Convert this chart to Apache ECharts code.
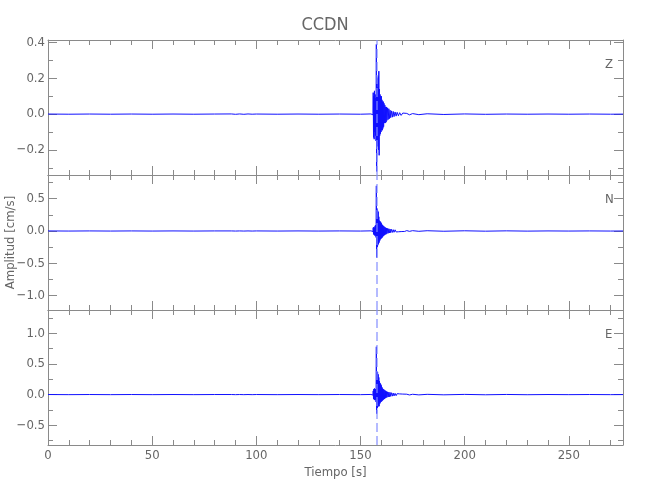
<!DOCTYPE html>
<html><head><meta charset="utf-8">
<script src="https://cdn.jsdelivr.net/npm/echarts@6/dist/echarts.min.js"></script>
<style>html,body{margin:0;padding:0;background:#fff}#chart{width:650px;height:500px}</style>
</head><body><div id="chart"></div>
<script>
const stationName = 'CCDN';
const componentNames = ['Z', 'N', 'E'];
const xAxisTitle = 'Tiempo [s]';
const yAxisTitle = 'Amplitud [cm/s]';

const times = [
  0, 10, 20, 30, 40, 50, 60, 70, 80, 88, 90, 92, 94, 96, 98, 100, 110, 120, 130, 140, 150, 155, 156.0,
  156.1, 156.25, 156.4, 156.55, 156.7, 156.85, 157.0, 157.15, 157.3, 157.45,
  157.6, 157.75, 157.9, 158.05, 158.2, 158.35, 158.5, 158.65, 158.8, 158.95,
  159.1, 159.25, 159.4, 159.55, 159.7, 159.85, 160.0, 160.15, 160.3, 160.45,
  160.6, 160.75, 160.9,
  161.1, 161.3, 161.5, 161.7, 161.9, 162.1, 162.3, 162.5, 162.7,
  163.0, 163.3, 163.6, 163.9, 164.2, 164.5, 164.9, 165.3, 165.7,
  166.1, 166.6, 167.1, 167.6, 168.2, 168.8, 169.5, 170.3, 171.2, 172.2, 173.5,
  175, 178, 182, 190, 200, 210, 220, 230, 240, 250, 260, 270, 276
];

const ampZ = [
  0.0005, -0.0005, 0.0005, -0.0005, 0.0005, -0.0005, 0.0005, -0.0005, 0.0005, 0.001, -0.001, 0.001, -0.001, 0.001, -0.0005, 0.0005, -0.0005, 0.0005, -0.0005, 0.0005, -0.0005, 0.001, -0.004,
  0.12, -0.13, 0.10, -0.14, 0.13, -0.10, 0.11, -0.12, 0.09, -0.15,
  0.39, -0.32, 0.20, -0.18, 0.15, -0.16, 0.21, -0.20, 0.24, -0.23,
  0.14, -0.12, 0.11, -0.11, 0.10, -0.10, 0.10, -0.09, 0.08, -0.09,
  0.07, -0.08, 0.07,
  -0.07, 0.06, -0.05, 0.05, -0.05, 0.04, -0.045, 0.04, -0.035,
  0.035, -0.03, 0.03, -0.025, 0.022, -0.02, 0.018, -0.017, 0.015,
  -0.014, 0.012, -0.011, 0.01, -0.009, 0.008, -0.007, 0.006, -0.005, 0.004, -0.004,
  0.003, -0.003, 0.002, -0.002, 0.001, -0.001, 0.0005, -0.0005, 0.0005, -0.0005, 0.0005, -0.0005, 0
];

const ampN = [
  0.001, -0.001, 0.001, -0.001, 0.001, -0.001, 0.001, -0.001, 0.001, 0.001, -0.001, 0.001, -0.001, 0.001, -0.001, 0.001, -0.001, 0.001, -0.001, 0.001, -0.001, 0.002, -0.008,
  0.05, -0.05, 0.06, -0.06, 0.05, -0.07, 0.08, -0.07, 0.09, -0.10,
  0.70, -0.41, 0.35, -0.25, 0.32, -0.22, 0.30, -0.20, 0.22, -0.18,
  0.16, -0.15, 0.15, -0.13, 0.14, -0.12, 0.12, -0.11, 0.10, -0.10,
  0.09, -0.085, 0.08,
  -0.075, 0.07, -0.065, 0.06, -0.055, 0.05, -0.05, 0.045, -0.04,
  0.04, -0.035, 0.035, -0.03, 0.03, -0.027, 0.025, -0.022, 0.02,
  -0.02, 0.018, -0.015, 0.013, -0.012, 0.01, -0.009, 0.008, -0.007, 0.006, -0.006,
  0.005, -0.005, 0.004, -0.004, 0.003, -0.003, 0.002, -0.002, 0.001, -0.001, 0.001, -0.001, 0
];

const ampE = [
  0.001, -0.001, 0.001, -0.001, 0.001, -0.001, 0.001, -0.001, 0.001, 0.001, -0.001, 0.001, -0.001, 0.001, -0.001, 0.001, -0.001, 0.001, -0.001, 0.001, -0.001, 0.002, -0.008,
  0.06, -0.07, 0.09, -0.08, 0.10, -0.09, 0.08, -0.08, 0.09, -0.12,
  0.78, -0.31, 0.30, -0.22, 0.37, -0.20, 0.33, -0.18, 0.28, -0.19,
  0.22, -0.15, 0.19, -0.13, 0.17, -0.12, 0.15, -0.11, 0.12, -0.10,
  0.10, -0.09, 0.09,
  -0.08, 0.08, -0.07, 0.07, -0.06, 0.06, -0.05, 0.05, -0.045,
  0.045, -0.04, 0.04, -0.035, 0.035, -0.03, 0.03, -0.025, 0.025,
  -0.022, 0.02, -0.018, 0.015, -0.013, 0.011, -0.01, 0.008, -0.007, 0.006, -0.006,
  0.005, -0.005, 0.004, -0.004, 0.003, -0.003, 0.002, -0.002, 0.001, -0.001, 0.001, -0.001, 0
];

const pickTime = 157.7;

const xMin = 0, xMax = 276;
const xMajorTicks = [0, 50, 100, 150, 200, 250];
const xMinorTicks = [10, 20, 30, 40, 60, 70, 80, 90, 110, 120, 130, 140, 160, 170, 180, 190, 210, 220, 230, 240, 260, 270];

const yMinZ = -0.34, yMaxZ = 0.414;
const yMinN = -1.225, yMaxN = 0.868;
const yMinE = -0.822, yMaxE = 1.379;
const yMajorZ = [-0.2, 0, 0.2, 0.4];
const yMinorZ = [-0.3, -0.1, 0.1, 0.3];
const yMajorN = [-1.0, -0.5, 0, 0.5];
const yMinorN = [-0.75, -0.25, 0.25, 0.75];
const yMajorE = [-0.5, 0, 0.5, 1.0];
const yMinorE = [-0.75, -0.25, 0.25, 0.75, 1.25];

const panels = [
  { amp: ampZ, min: yMinZ, max: yMaxZ, major: yMajorZ, minor: yMinorZ },
  { amp: ampN, min: yMinN, max: yMaxN, major: yMajorN, minor: yMinorN },
  { amp: ampE, min: yMinE, max: yMaxE, major: yMajorE, minor: yMinorE }
];

const FONT = "'Liberation Sans Narrow','DejaVu Sans Condensed','Liberation Sans',sans-serif";
const AXIS_COLOR = '#8a8a8a';
const TEXT_COLOR = '#666';
const gridTops = [40, 175, 310];
const gridH = 135;

const grids = gridTops.map(t => ({
  left: 48, width: 575, top: t, height: gridH,
  containLabel: false, outerBoundsMode: 'none'
}));

const xAxes = [], yAxes = [], series = [];
panels.forEach((p, g) => {
  const last = g === panels.length - 1;
  const xBase = {
    gridIndex: g, type: 'value', min: xMin, max: xMax,
    splitLine: { show: false }, minorTick: { show: false },
    axisLine: { show: false, onZero: false, lineStyle: { color: AXIS_COLOR, width: 1 } },
    axisLabel: { show: false }
  };
  ['bottom', 'top'].forEach(pos => {
    xAxes.push(Object.assign({}, xBase, {
      position: pos,
      axisLine: { show: true, onZero: false, lineStyle: { color: AXIS_COLOR, width: 1 } },
      axisTick: { show: true, inside: true, length: 9, customValues: xMajorTicks, lineStyle: { color: AXIS_COLOR } },
      axisLabel: (pos === 'bottom' && last) ? {
        show: true, customValues: xMajorTicks, margin: 4, color: TEXT_COLOR,
        fontFamily: FONT, fontSize: 13, formatter: v => String(v)
      } : { show: false },
      name: (pos === 'bottom' && last) ? xAxisTitle : '',
      nameLocation: 'middle', nameGap: 21, nameMoveOverlap: false,
      nameTextStyle: { color: TEXT_COLOR, fontFamily: FONT, fontSize: 13 }
    }));
    xAxes.push(Object.assign({}, xBase, {
      position: pos,
      axisTick: { show: true, inside: true, length: 5, customValues: xMinorTicks, lineStyle: { color: AXIS_COLOR } }
    }));
  });
  const yBase = {
    gridIndex: g, type: 'value', min: p.min, max: p.max,
    splitLine: { show: false }, minorTick: { show: false },
    axisLine: { show: false, onZero: false }, axisLabel: { show: false }
  };
  ['left', 'right'].forEach(pos => {
    yAxes.push(Object.assign({}, yBase, {
      position: pos,
      axisLine: { show: true, onZero: false, lineStyle: { color: AXIS_COLOR, width: 1 } },
      axisTick: { show: true, inside: true, length: 9, customValues: p.major, lineStyle: { color: AXIS_COLOR } },
      axisLabel: pos === 'left' ? {
        show: true, customValues: p.major, margin: 3, color: TEXT_COLOR,
        fontFamily: FONT, fontSize: 13,
        formatter: v => (v < 0 ? '\u2212' : '') + Math.abs(v).toFixed(1)
      } : { show: false },
      name: (pos === 'left' && g === 1) ? yAxisTitle : '',
      nameLocation: 'middle', nameGap: 31, nameRotate: 90, nameMoveOverlap: false,
      nameTextStyle: { color: TEXT_COLOR, fontFamily: FONT, fontSize: 13 }
    }));
    yAxes.push(Object.assign({}, yBase, {
      position: pos,
      axisTick: { show: true, inside: true, length: 5, customValues: p.minor, lineStyle: { color: AXIS_COLOR } }
    }));
  });
  series.push({
    type: 'line',
    name: componentNames[g],
    xAxisIndex: 4 * g, yAxisIndex: 4 * g,
    data: times.map((t, i) => [t, p.amp[i]]),
    showSymbol: false, symbol: 'none', silent: true, animation: false,
    lineStyle: { color: '#1010ff', width: 1 },
    markLine: {
      silent: true, symbol: 'none', animation: false,
      label: { show: false },
      lineStyle: { color: 'rgba(130,140,255,0.6)', width: 2, type: [9, 4] },
      data: [{ xAxis: pickTime }]
    }
  });
});

const titles = [{
  text: stationName, left: 'center', top: 11,
  textStyle: { color: TEXT_COLOR, fontFamily: FONT, fontSize: 18, fontWeight: 'normal' }
}];
componentNames.forEach((c, g) => {
  titles.push({
    text: c, left: 600, top: gridTops[g] + 13,
    textStyle: { color: TEXT_COLOR, fontFamily: FONT, fontSize: 13, fontWeight: 'normal' }
  });
});

const chart = echarts.init(document.getElementById('chart'), null, { renderer: 'canvas' });
chart.setOption({
  backgroundColor: '#fff',
  animation: false,
  title: titles,
  grid: grids,
  xAxis: xAxes,
  yAxis: yAxes,
  series: series
});
</script>
</body></html>
